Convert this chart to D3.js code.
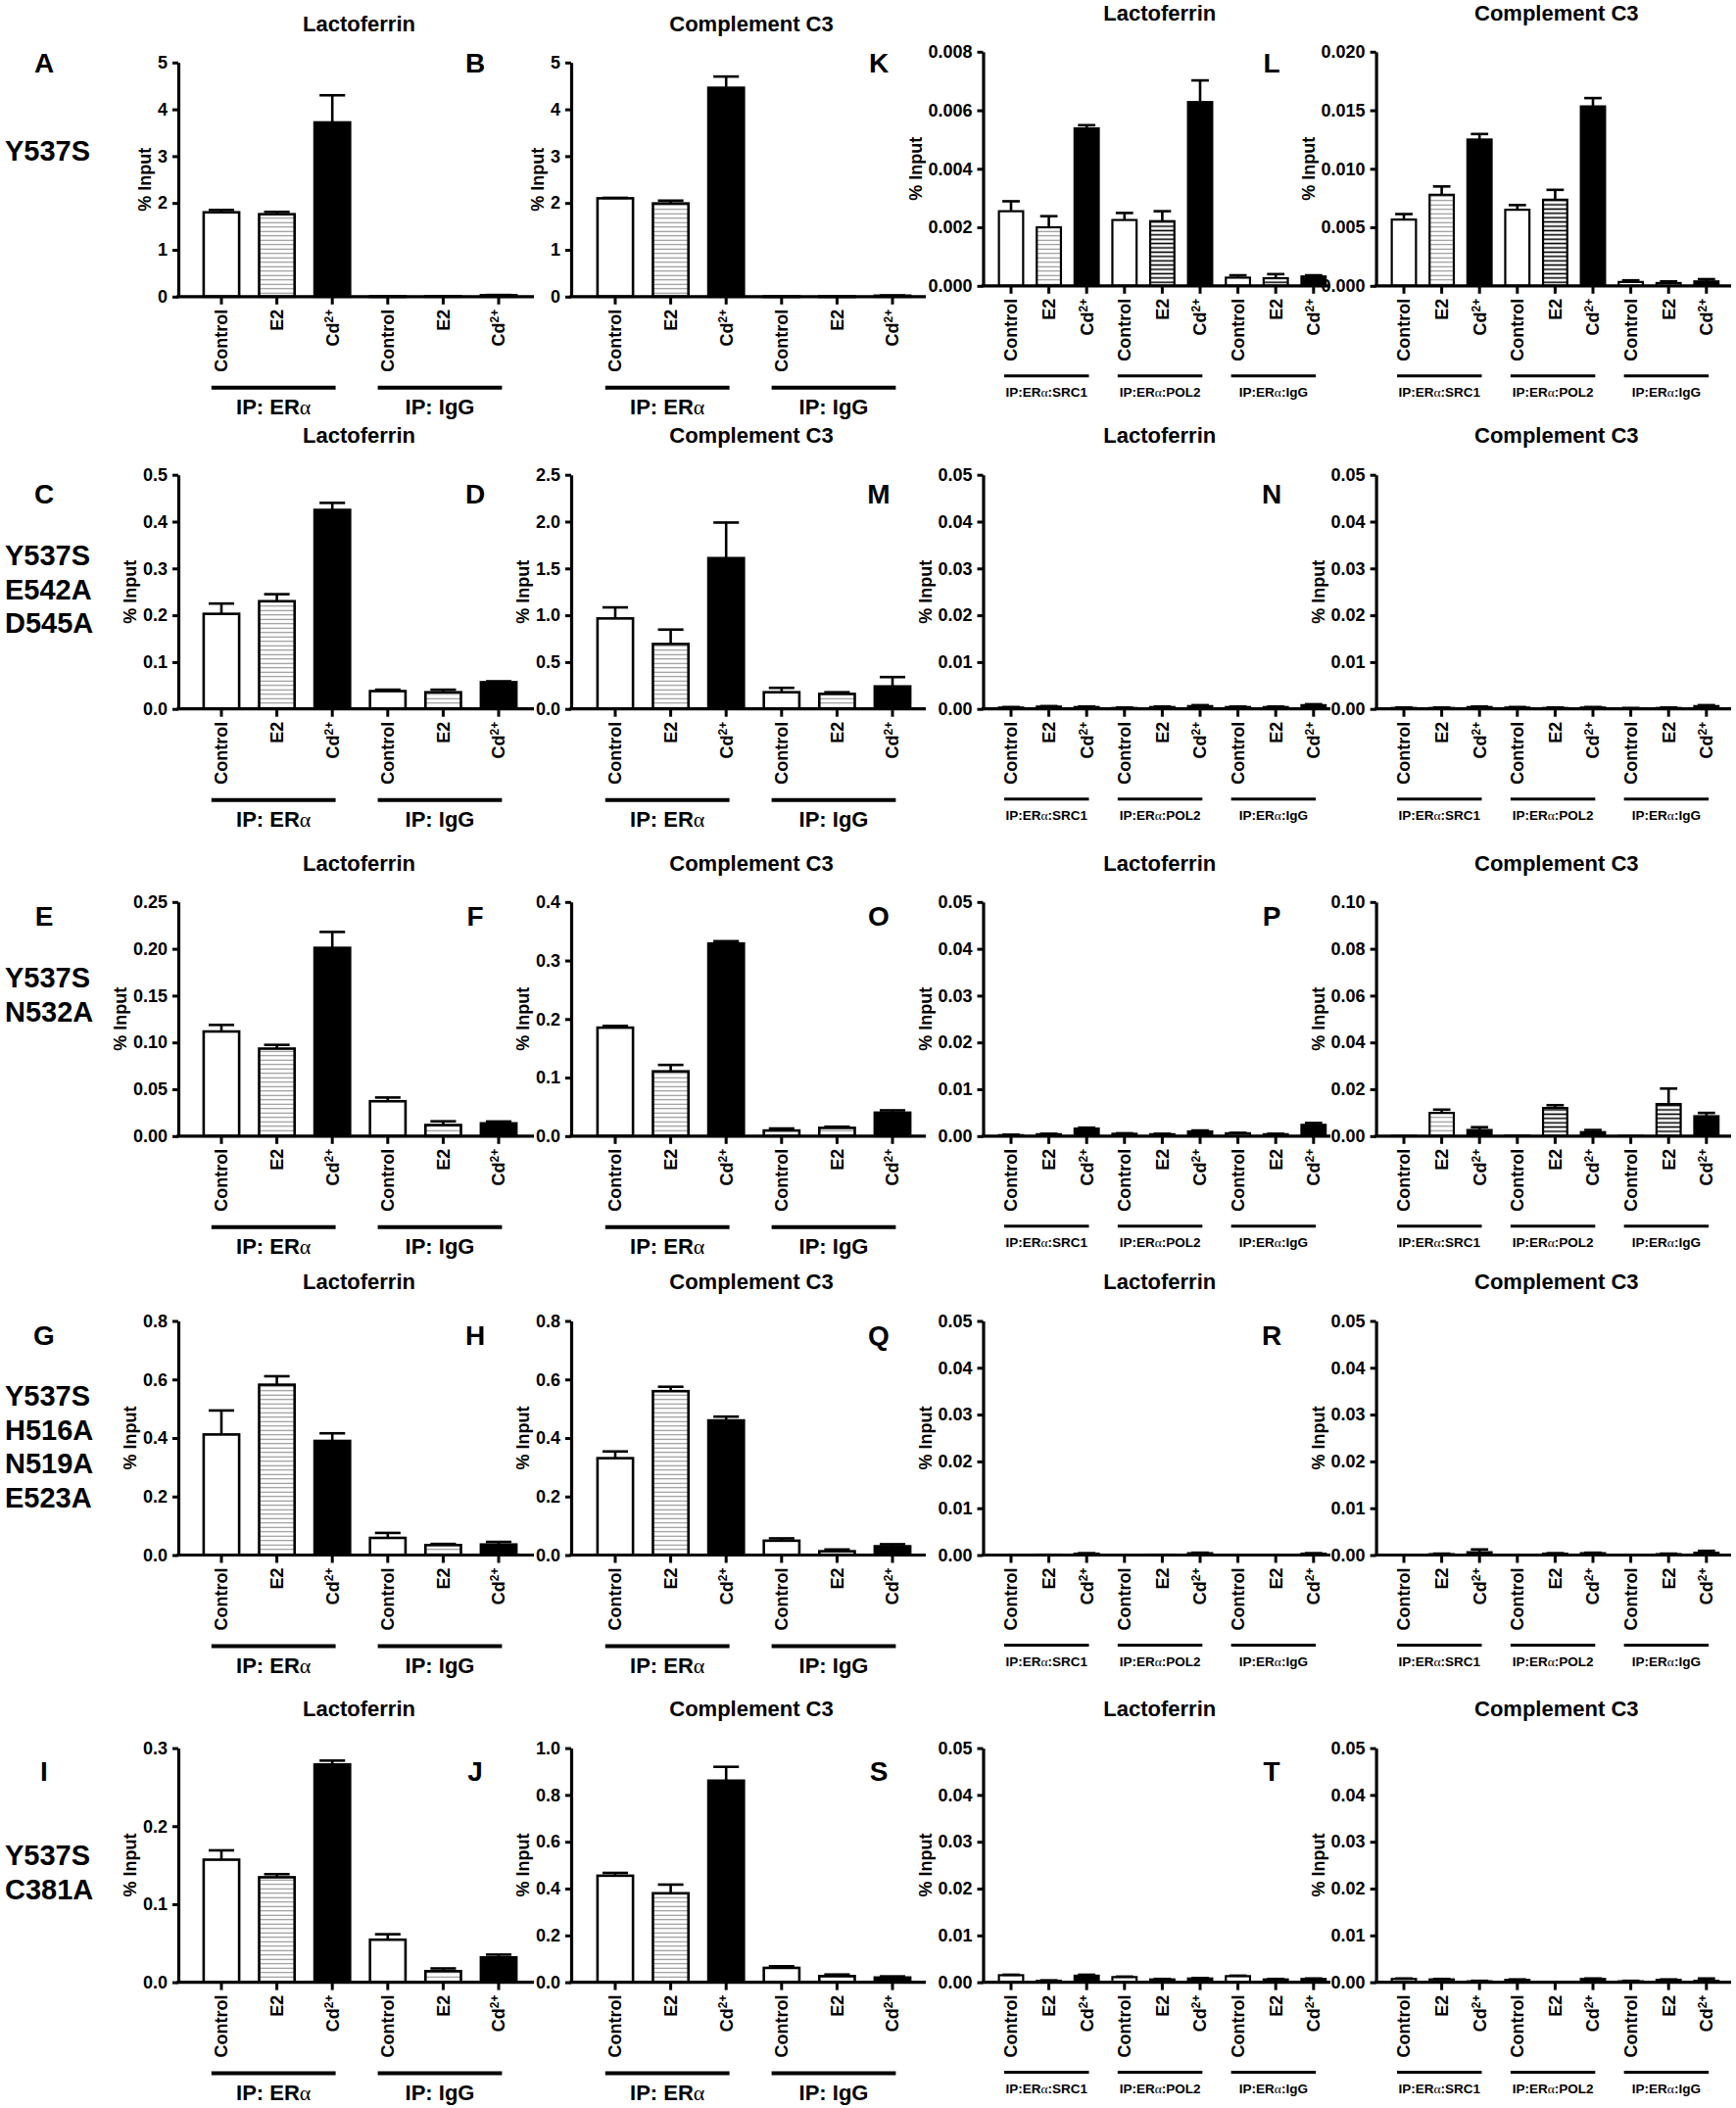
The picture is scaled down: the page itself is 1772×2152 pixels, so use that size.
<!DOCTYPE html>
<html>
<head>
<meta charset="utf-8">
<style>
    body {
        margin: 0;
        background: #fff;
    }

    svg {
        font-family: 'Liberation Sans', Arial, sans-serif;
        font-weight: bold;
    }

    .y .domain {
        stroke: #000;
        stroke-width: 3.2;
    }

    .y .tick line {
        stroke: #000;
        stroke-width: 3;
    }

    .y .tick text {
        font-size: 18px;
        fill: #000;
        font-family: 'Liberation Sans', Arial, sans-serif;
        font-weight: bold;
    }

    .xlab {
        font-size: 18px;
    }

    .ylab {
        font-size: 18px;
    }

    .title {
        font-size: 22px;
    }

    .letter {
        font-size: 28px;
    }

    .mutant {
        font-size: 29px;
    }
</style>
</head>
<body>
<svg width="1772" height="2152"></svg>
<script src="https://d3js.org/d3.v7.min.js"></script>
<script>
    // ---- labels
    const conditions = ["Control", "E2", "Cd"];
    const genes = ["Lactoferrin", "Complement C3"];
    const chipGroups = ["IP: ERα", "IP: IgG"];
    const coipGroups = ["IP:ERα:SRC1", "IP:ERα:POL2", "IP:ERα:IgG"];
    const mutants = [
        ["Y537S"],
        ["Y537S", "E542A", "D545A"],
        ["Y537S", "N532A"],
        ["Y537S", "H516A", "N519A", "E523A"],
        ["Y537S", "C381A"]
    ];
    const letters = [
        ["A", "B", "K", "L"],
        ["C", "D", "M", "N"],
        ["E", "F", "O", "P"],
        ["G", "H", "Q", "R"],
        ["I", "J", "S", "T"]
    ];

    // ---- y axis ranges (max, tick step) per row
    const chipLactMax = [5, 0.5, 0.25, 0.8, 0.3];
    const chipLactStep = [1, 0.1, 0.05, 0.2, 0.1];
    const chipC3Max = [5, 2.5, 0.4, 0.8, 1.0];
    const chipC3Step = [1, 0.5, 0.1, 0.2, 0.2];
    const coipLactMax = [0.008, 0.05, 0.05, 0.05, 0.05];
    const coipLactStep = [0.002, 0.01, 0.01, 0.01, 0.01];
    const coipC3Max = [0.020, 0.05, 0.10, 0.05, 0.05];
    const coipC3Step = [0.005, 0.01, 0.02, 0.01, 0.01];

    // ---- ChIP (IP: ERα / IP: IgG), order Control, E2, Cd, Control, E2, Cd
    const r1LactMean = [1.80, 1.76, 3.72, 0.005, 0.01, 0.03];
    const r1LactErr = [0.05, 0.05, 0.58, 0, 0, 0.005];
    const r1C3Mean = [2.10, 1.99, 4.46, 0.004, 0.004, 0.02];
    const r1C3Err = [0.01, 0.06, 0.24, 0, 0, 0.005];
    const r2LactMean = [0.203, 0.230, 0.425, 0.038, 0.0355, 0.057];
    const r2LactErr = [0.022, 0.015, 0.015, 0.003, 0.0055, 0.002];
    const r2C3Mean = [0.966, 0.693, 1.61, 0.178, 0.16, 0.24];
    const r2C3Err = [0.118, 0.154, 0.38, 0.047, 0.018, 0.10];
    const r3LactMean = [0.1117, 0.0934, 0.201, 0.0372, 0.0118, 0.0136];
    const r3LactErr = [0.007, 0.004, 0.017, 0.004, 0.004, 0.002];
    const r3C3Mean = [0.1853, 0.1106, 0.329, 0.0095, 0.014, 0.04];
    const r3C3Err = [0.003, 0.011, 0.004, 0.0035, 0.002, 0.004];
    const r4LactMean = [0.412, 0.582, 0.390, 0.0586, 0.034, 0.036];
    const r4LactErr = [0.082, 0.029, 0.026, 0.017, 0.004, 0.009];
    const r4C3Mean = [0.331, 0.56, 0.46, 0.049, 0.013, 0.03];
    const r4C3Err = [0.023, 0.015, 0.013, 0.008, 0.006, 0.007];
    const r5LactMean = [0.157, 0.1345, 0.279, 0.0545, 0.0142, 0.0318];
    const r5LactErr = [0.012, 0.004, 0.005, 0.007, 0.0035, 0.0036];
    const r5C3Mean = [0.455, 0.38, 0.861, 0.0613, 0.026, 0.02];
    const r5C3Err = [0.012, 0.037, 0.059, 0.007, 0.007, 0.005];

    // ---- co-IP (SRC1 / POL2 / IgG), Control, E2, Cd each
    const r1LactCoMean = [0.00255, 0.0020, 0.00538, 0.00225, 0.00221, 0.00628, 0.00028, 0.00026, 0.00032];
    const r1LactCoErr = [0.00034, 0.00038, 0.00011, 0.00024, 0.00034, 0.00074, 0.00008, 0.00014, 0.00004];
    const r1C3CoMean = [0.00566, 0.00778, 0.0125, 0.0065, 0.00736, 0.01533, 0.00033, 0.00024, 0.00038];
    const r1C3CoErr = [0.00047, 0.00071, 0.00047, 0.0004, 0.00084, 0.00071, 0.00014, 0.00014, 0.00019];
    const r2LactCoMean = [0.0003, 0.0005, 0.0004, 0.0002, 0.0004, 0.0006, 0.0004, 0.0004, 0.0008];
    const r2LactCoErr = [0.0001, 0.0001, 0.0001, 0.0001, 0.0001, 0.0002, 0.0001, 0.0001, 0.0002];
    const r2C3CoMean = [0.0002, 0.0002, 0.0004, 0.0003, 0.0002, 0.0003, 0.0001, 0.0002, 0.0006];
    const r2C3CoErr = [0.0001, 0.0001, 0.0001, 0.0001, 0.0001, 0.0001, 0.0001, 0.0001, 0.0002];
    const r3LactCoMean = [0.0002, 0.0004, 0.0016, 0.0005, 0.0004, 0.001, 0.0006, 0.0004, 0.0024];
    const r3LactCoErr = [0.0001, 0.0001, 0.0002, 0.0001, 0.0001, 0.0002, 0.0001, 0.0001, 0.0004];
    const r3C3CoMean = [0.0001, 0.0099, 0.0026, 0.0002, 0.012, 0.0017, 0.0001, 0.0137, 0.0085];
    const r3C3CoErr = [0, 0.0014, 0.0012, 0, 0.0012, 0.0009, 0, 0.0066, 0.0014];
    const r4LactCoMean = [0, 0.0001, 0.0003, 0, 0.0001, 0.0004, 0, 0, 0.0003];
    const r4LactCoErr = [0, 0, 0.0001, 0, 0, 0.0001, 0, 0, 0.0001];
    const r4C3CoMean = [0, 0.0002, 0.0006, 0, 0.0003, 0.0004, 0, 0.0002, 0.0005];
    const r4C3CoErr = [0, 0.0001, 0.0006, 0, 0.0001, 0.0001, 0, 0.0001, 0.0004];
    const r5LactCoMean = [0.0015, 0.0003, 0.0014, 0.0011, 0.0006, 0.0008, 0.0013, 0.0006, 0.0007];
    const r5LactCoErr = [0.0001, 0.0001, 0.0002, 0.0001, 0.0001, 0.0001, 0.0001, 0.0001, 0.0001];
    const r5C3CoMean = [0.0007, 0.0006, 0.0002, 0.0005, 0.0001, 0.0007, 0.0002, 0.0005, 0.0003];
    const r5C3CoErr = [0.0001, 0.0001, 0.0001, 0.0001, 0, 0.0001, 0.0001, 0.0001, 0.0005];

    const chipLactMeans = [r1LactMean, r2LactMean, r3LactMean, r4LactMean, r5LactMean];
    const chipLactErrs = [r1LactErr, r2LactErr, r3LactErr, r4LactErr, r5LactErr];
    const chipC3Means = [r1C3Mean, r2C3Mean, r3C3Mean, r4C3Mean, r5C3Mean];
    const chipC3Errs = [r1C3Err, r2C3Err, r3C3Err, r4C3Err, r5C3Err];
    const coipLactMeans = [r1LactCoMean, r2LactCoMean, r3LactCoMean, r4LactCoMean, r5LactCoMean];
    const coipLactErrs = [r1LactCoErr, r2LactCoErr, r3LactCoErr, r4LactCoErr, r5LactCoErr];
    const coipC3Means = [r1C3CoMean, r2C3CoMean, r3C3CoMean, r4C3CoMean, r5C3CoMean];
    const coipC3Errs = [r1C3CoErr, r2C3CoErr, r3C3CoErr, r4C3CoErr, r5C3CoErr];

    // ---- layout
    let svg = d3.select("svg");
    let rowTop = [63.8, 484.7, 920.8, 1348.5, 1784.6];
    let plotH = 239;
    let colAxisX = [182, 583, 1003.5, 1404.6];
    let colAxisEnd = [545, 945, 1358, 1767];
    let colFirst = [44, 45, 28.5, 28.4];
    let colStep = [56.6, 56.6, 38.6, 38.6];
    let letterX = [45, 485, 897, 1298];
    let letterY = [64, 504, 935, 1363, 1808];
    let mutantY = [154, 567, 998, 1425, 1894];

    // hatch patterns for E2 bars
    let defs = svg.append("defs");
    let addHatch = function(id, color, w, gap) {
        let p = defs.append("pattern")
            .attr("id", id)
            .attr("patternUnits", "userSpaceOnUse")
            .attr("width", 8)
            .attr("height", gap)
        p.append("rect").attr("width", 8).attr("height", gap).attr("fill", "white")
        p.append("line")
            .attr("x1", 0).attr("x2", 8)
            .attr("y1", gap / 2).attr("y2", gap / 2)
            .attr("stroke", color)
            .attr("stroke-width", w)
    }
    addHatch("hatchLight", "#8a8a8a", 1.1, 4.5)
    addHatch("hatchDark", "#000", 1.6, 4.4)

    let addRich = function(sel, str) {
        let parts = str.split("α");
        parts.forEach((p, k) => {
            sel.append("tspan").text(p);
            if (k < parts.length - 1) {
                sel.append("tspan")
                    .attr("font-family", "'Liberation Serif', serif")
                    .attr("font-weight", "normal")
                    .text("α");
            }
        })
    }

    function drawPanel(row, col, means, errs, yMax, yStep, groups, coip) {
        let top = rowTop[row];
        if (row == 0 && col >= 2) top -= 11;
        let zero = top + plotH;
        let ax = colAxisX[col];
        let n = means.length;
        let first = ax + colFirst[col];

        let x = d3.scalePoint()
            .domain(d3.range(n))
            .range([first, first + (n - 1) * colStep[col]]);

        let y = d3.scaleLinear()
            .domain([0, yMax])
            .range([zero, top]);

        let g = svg.append("g");

        // title
        g.append("text")
            .attr("class", "title")
            .attr("x", (ax + colAxisEnd[col]) / 2 + 3)
            .attr("y", top - 40)
            .attr("dy", "0.35em")
            .attr("text-anchor", "middle")
            .text(genes[col % 2]);

        // bars
        let bw = colStep[col] * 0.64;
        g.selectAll("rect.bar")
            .data(means)
            .join("rect")
            .attr("class", "bar")
            .attr("x", (d, i) => x(i) - bw / 2)
            .attr("width", bw)
            .attr("y", d => y(d))
            .attr("height", d => Math.max(0.4, zero - y(d)))
            .attr("fill", (d, i) => {
                let j = i % 3;
                if (j == 0) return "white";
                if (j == 2) return "black";
                return (coip && i >= 3) ? "url(#hatchDark)" : "url(#hatchLight)";
            })
            .attr("stroke", "black")
            .attr("stroke-width", coip ? 2.2 : 2.6);

        // error bars (upper only)
        let cw = bw * 0.72;
        means.forEach((m, i) => {
            let e = errs[i];
            if (e <= 0) return;
            g.append("line")
                .attr("x1", x(i)).attr("x2", x(i))
                .attr("y1", y(m)).attr("y2", y(m + e))
                .attr("stroke", "black").attr("stroke-width", 2.6);
            g.append("line")
                .attr("x1", x(i) - cw / 2).attr("x2", x(i) + cw / 2)
                .attr("y1", y(m + e)).attr("y2", y(m + e))
                .attr("stroke", "black").attr("stroke-width", 2.6);
        })

        // y axis
        let dec = Math.max(0, -Math.floor(Math.log10(yStep) + 1e-9));
        let yAxis = g.append("g")
            .attr("class", "y")
            .attr("transform", `translate(${ax},0)`)
            .call(d3.axisLeft(y)
                .tickValues(d3.range(0, yMax + yStep / 2, yStep))
                .tickSize(6)
                .tickPadding(5)
                .tickSizeOuter(0)
                .tickFormat(d3.format(`.${dec}f`)));

        // x baseline + ticks
        g.append("line")
            .attr("x1", ax - 1.6).attr("x2", colAxisEnd[col])
            .attr("y1", zero).attr("y2", zero)
            .attr("stroke", "black").attr("stroke-width", 3.2);
        g.selectAll("line.xt")
            .data(d3.range(n))
            .join("line")
            .attr("class", "xt")
            .attr("x1", i => x(i)).attr("x2", i => x(i))
            .attr("y1", zero).attr("y2", zero + 8)
            .attr("stroke", "black").attr("stroke-width", 3);

        // rotated condition labels
        d3.range(n).forEach(i => {
            let t = g.append("text")
                .attr("class", "xlab")
                .attr("transform", `translate(${x(i)},${zero + 13}) rotate(-90)`)
                .attr("text-anchor", "end")
                .attr("dy", "0.35em");
            let c = conditions[i % 3];
            if (c == "Cd") {
                t.append("tspan").text("Cd");
                t.append("tspan").attr("dy", "-0.5em").attr("font-size", "12px").text("2+");
            } else {
                t.text(c);
            }
        })

        // y label
        let bb = yAxis.node().getBBox();
        g.append("text")
            .attr("class", "ylab")
            .attr("transform", `translate(${ax + bb.x - 13},${(top + zero) / 2}) rotate(-90)`)
            .attr("text-anchor", "middle")
            .attr("dy", "0.35em")
            .text("% Input");

        // group bars and labels
        let per = 3;
        groups.forEach((gname, k) => {
            let x0 = x(k * per), x1 = x(k * per + per - 1);
            let st = colStep[col];
            g.append("line")
                .attr("x1", x0 - 0.18 * st).attr("x2", x1 + 0.06 * st)
                .attr("y1", zero + (coip ? 92 : 93)).attr("y2", zero + (coip ? 92 : 93))
                .attr("stroke", "black").attr("stroke-width", coip ? 3 : 4);
            let t = g.append("text")
                .attr("x", (x0 - 0.18 * st + x1 + 0.06 * st) / 2)
                .attr("y", zero + (coip ? 113 : 120))
                .attr("text-anchor", "middle")
                .attr("font-size", coip ? "13.5px" : "22px");
            addRich(t, gname);
        })
    }

    for (let r = 0; r < 5; r++) {
        drawPanel(r, 0, chipLactMeans[r], chipLactErrs[r], chipLactMax[r], chipLactStep[r], chipGroups, false);
        drawPanel(r, 1, chipC3Means[r], chipC3Errs[r], chipC3Max[r], chipC3Step[r], chipGroups, false);
        drawPanel(r, 2, coipLactMeans[r], coipLactErrs[r], coipLactMax[r], coipLactStep[r], coipGroups, true);
        drawPanel(r, 3, coipC3Means[r], coipC3Errs[r], coipC3Max[r], coipC3Step[r], coipGroups, true);

        // panel letters
        letters[r].forEach((l, c) => {
            svg.append("text")
                .attr("class", "letter")
                .attr("x", letterX[c])
                .attr("y", letterY[r])
                .attr("dy", "0.35em")
                .attr("text-anchor", "middle")
                .text(l);
        })

        // mutant names
        mutants[r].forEach((m, k) => {
            svg.append("text")
                .attr("class", "mutant")
                .attr("x", 5)
                .attr("y", mutantY[r] + k * 34.5)
                .attr("dy", "0.35em")
                .text(m);
        })
    }
</script>
</body>
</html>
